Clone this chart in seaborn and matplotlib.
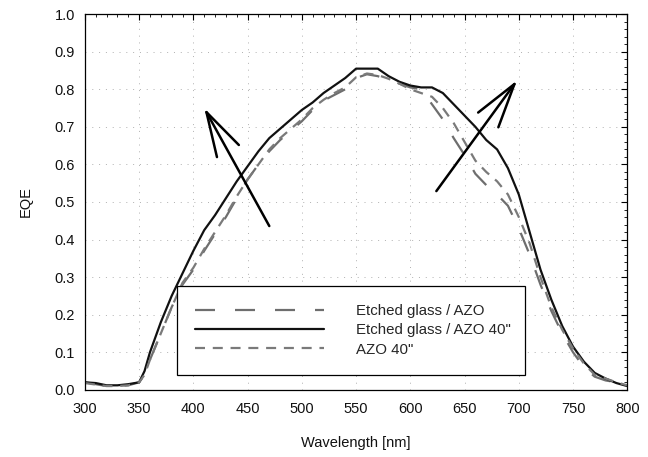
import numpy as np
import pandas as pd
import matplotlib
matplotlib.use("Agg")
import matplotlib.pyplot as plt
from matplotlib.ticker import MultipleLocator
import seaborn as sns

# ---- data ----
wl = [300, 310, 320, 330, 340, 350, 355, 360, 370, 380, 390, 400, 410, 420, 430,
      440, 450, 460, 470, 480, 490, 500, 510, 520, 530, 540, 550, 560, 570, 580,
      590, 600, 610, 620, 630, 640, 650, 660, 670, 680, 690, 700, 710, 720, 730,
      740, 750, 760, 770, 780, 790, 800]

eqe_etched_azo = [0.020, 0.015, 0.010, 0.010, 0.012, 0.020, 0.040, 0.080, 0.150, 0.220,
                  0.280, 0.320, 0.370, 0.415, 0.460, 0.510, 0.560, 0.600, 0.635, 0.665,
                  0.690, 0.715, 0.745, 0.770, 0.785, 0.800, 0.830, 0.840, 0.835, 0.825,
                  0.815, 0.805, 0.800, 0.760, 0.720, 0.670, 0.625, 0.575, 0.545, 0.520,
                  0.490, 0.430, 0.360, 0.280, 0.210, 0.150, 0.100, 0.060, 0.035, 0.025,
                  0.020, 0.015]

eqe_etched_azo40 = [0.020, 0.018, 0.012, 0.012, 0.015, 0.020, 0.050, 0.100, 0.180, 0.250,
                    0.310, 0.370, 0.425, 0.465, 0.510, 0.555, 0.595, 0.635, 0.670, 0.695,
                    0.720, 0.745, 0.765, 0.790, 0.810, 0.830, 0.855, 0.855, 0.855, 0.835,
                    0.820, 0.810, 0.805, 0.805, 0.790, 0.760, 0.730, 0.700, 0.665, 0.640,
                    0.590, 0.520, 0.420, 0.320, 0.240, 0.170, 0.115, 0.075, 0.045, 0.030,
                    0.018, 0.010]

eqe_azo40 = [0.018, 0.014, 0.010, 0.010, 0.012, 0.020, 0.040, 0.080, 0.150, 0.220,
             0.285, 0.325, 0.375, 0.420, 0.465, 0.515, 0.560, 0.600, 0.640, 0.670,
             0.695, 0.720, 0.750, 0.772, 0.790, 0.805, 0.832, 0.842, 0.838, 0.828,
             0.815, 0.800, 0.790, 0.780, 0.750, 0.710, 0.660, 0.610, 0.580, 0.555,
             0.520, 0.460, 0.390, 0.300, 0.220, 0.160, 0.110, 0.070, 0.040, 0.030,
             0.020, 0.012]

series_names = ["Etched glass / AZO", 'Etched glass / AZO 40"', 'AZO 40"']
x_ticks = [300, 350, 400, 450, 500, 550, 600, 650, 700, 750, 800]
y_ticks = [0.0, 0.1, 0.2, 0.3, 0.4, 0.5, 0.6, 0.7, 0.8, 0.9, 1.0]

df = pd.concat([
    pd.DataFrame({"Wavelength": wl, "EQE": eqe_etched_azo, "Sample": series_names[0]}),
    pd.DataFrame({"Wavelength": wl, "EQE": eqe_etched_azo40, "Sample": series_names[1]}),
    pd.DataFrame({"Wavelength": wl, "EQE": eqe_azo40, "Sample": series_names[2]}),
])

sns.set_theme(style="white")
plt.rcParams["font.family"] = ["Liberation Sans", "DejaVu Sans"]

fig = plt.figure(figsize=(6.48, 4.57), dpi=100)
ax = fig.add_axes([0.131, 0.147, 0.837, 0.822])

palette = {series_names[0]: "#6e6e6e", series_names[1]: "#111111", series_names[2]: "#7a7a7a"}
dashes = {series_names[0]: (9, 9), series_names[1]: "", series_names[2]: (4.5, 3.5)}

sns.lineplot(data=df, x="Wavelength", y="EQE", hue="Sample", style="Sample",
             hue_order=series_names, style_order=series_names,
             palette=palette, dashes=dashes, linewidth=1.6, ax=ax, legend=True)

ax.set_xlim(300, 800)
ax.set_ylim(0, 1.0)
ax.set_xticks(x_ticks)
ax.set_yticks(y_ticks)
ax.set_yticklabels([f"{v:.1f}" for v in y_ticks])
ax.xaxis.set_minor_locator(MultipleLocator(10))
ax.yaxis.set_minor_locator(MultipleLocator(0.02))
ax.tick_params(which="both", direction="in", top=True, right=True, colors="black",
               labelsize=10.5, labelcolor="#111111")
ax.tick_params(which="major", length=4.5, width=0.8)
ax.tick_params(which="minor", length=2.2, width=0.6)
ax.tick_params(axis="x", which="major", pad=9)
ax.tick_params(axis="y", which="major", pad=7)
for s in ax.spines.values():
    s.set_color("black")
    s.set_linewidth(0.9)

ax.grid(True, which="major", color="#b0b0b0", linestyle=(0, (1, 6)), linewidth=0.7)

ax.set_xlabel("Wavelength [nm]", fontsize=10.5, labelpad=14, color="#111111")
ax.set_ylabel("EQE", fontsize=10.5, labelpad=16, color="#111111")

# arrows
arrow_kw = dict(arrowstyle="->,head_length=3.2,head_width=0.9", lw=1.8, color="black",
                shrinkA=0, shrinkB=0, mutation_scale=10)
ax.annotate("", xy=(410, 0.750), xytext=(470, 0.436), arrowprops=arrow_kw)
ax.annotate("", xy=(698.5, 0.824), xytext=(624, 0.529), arrowprops=arrow_kw)

handles, labels = ax.get_legend_handles_labels()
leg = ax.legend(handles, labels, loc="center", bbox_to_anchor=(0.17, 0.035, 0.642, 0.247),
                mode="expand", fontsize=10.8, frameon=True, fancybox=False,
                edgecolor="black", framealpha=1, handlelength=8.6, handletextpad=2.1,
                labelspacing=0.35, borderpad=1.2, borderaxespad=0)
leg.get_frame().set_linewidth(0.9)

fig.savefig("out.png", dpi=100)
